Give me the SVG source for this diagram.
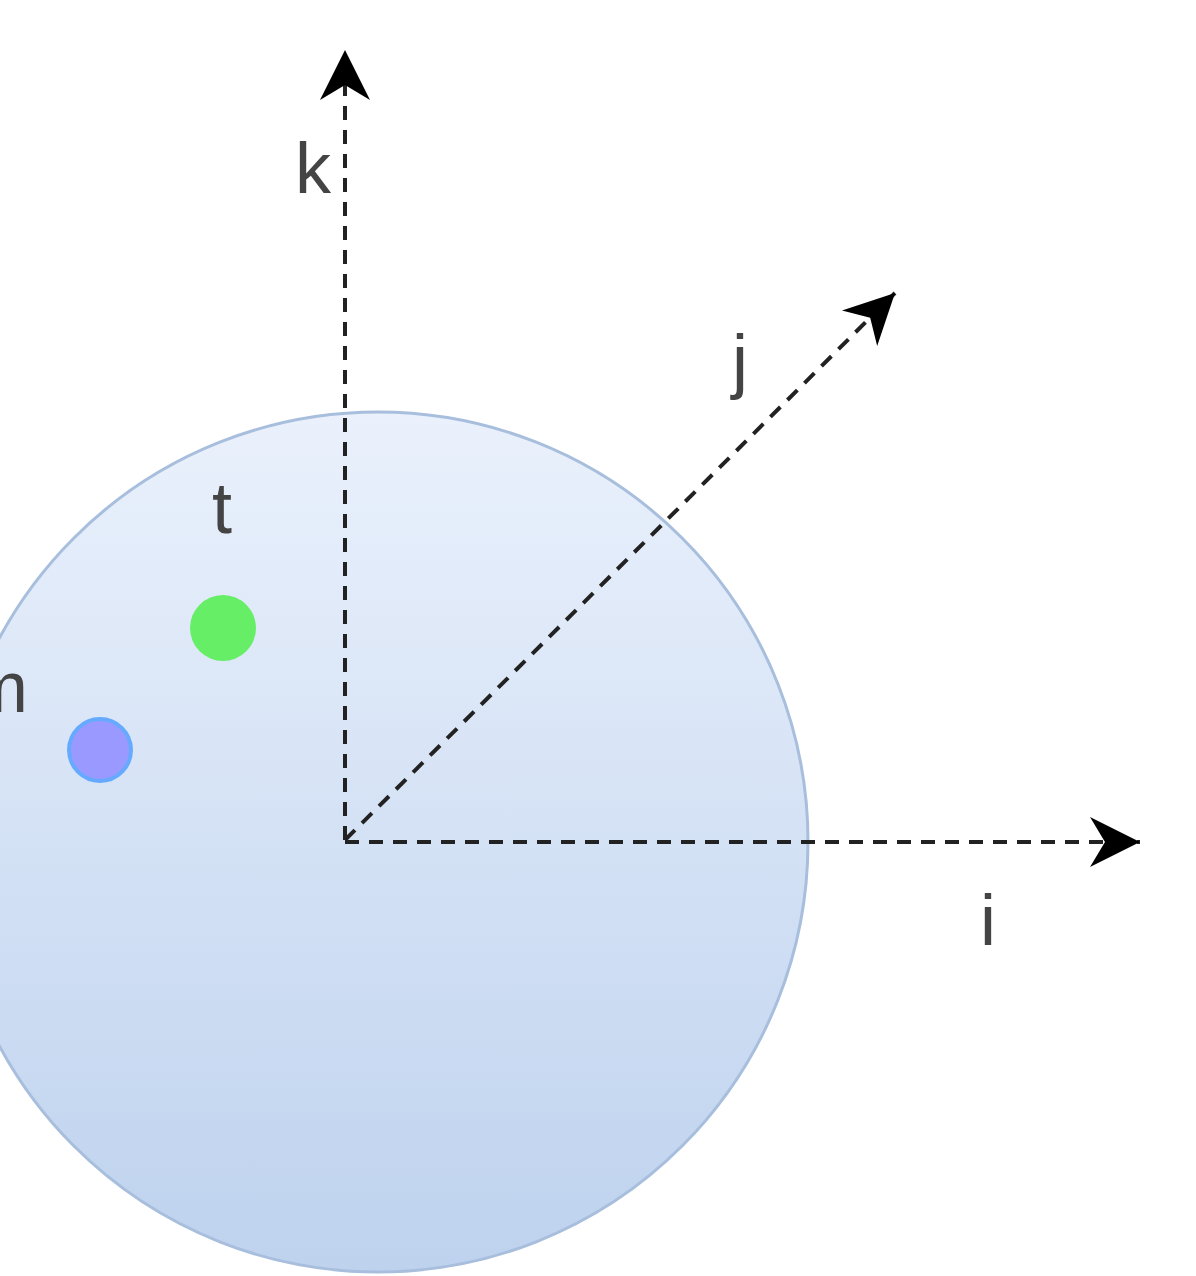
<svg xmlns="http://www.w3.org/2000/svg" width="1196" height="1276" viewBox="0 0 1196 1276">
<defs>
<linearGradient id="g" x1="0" y1="0" x2="0" y2="1"><stop offset="0" stop-color="#eaf1fc"/><stop offset="1" stop-color="#bed2ee"/></linearGradient>
<marker id="a" viewBox="0 0 10 10" refX="10" refY="5" markerWidth="50" markerHeight="50" markerUnits="userSpaceOnUse" orient="auto"><path d="M0,0 L10,5 L0,10 L3,5 Z" fill="#000"/></marker>
<style>.ax{stroke:#222;stroke-width:4;stroke-dasharray:14 10;fill:none}.t{font-family:"Liberation Sans",Arial,sans-serif;font-size:72px;fill:#444}</style>
</defs>
<g id="sphere"><circle cx="378" cy="842" r="430" fill="url(#g)" stroke="#a8bedd" stroke-width="3"/></g>
<g id="connectors">
<line class="ax" x1="345" y1="840" x2="345" y2="50" marker-end="url(#a)"/>
<line class="ax" x1="345" y1="842" x2="1140" y2="842" marker-end="url(#a)"/>
<line class="ax" x1="345" y1="840" x2="895" y2="293" marker-end="url(#a)"/>
</g>
<g id="dot-t"><circle cx="223" cy="628" r="33" fill="#66ee66"/></g>
<g id="dot-m"><circle cx="100" cy="750" r="31" fill="#9999ff" stroke="#66aaff" stroke-width="4"/></g>
<g id="labels">
<text class="t" x="313" y="193" text-anchor="middle">k</text>
<text class="t" x="740" y="385" text-anchor="middle">j</text>
<text class="t" x="222" y="533" text-anchor="middle">t</text>
<text class="t" x="988" y="945" text-anchor="middle">i</text>
<text class="t" x="28" y="712" text-anchor="end">m</text>
</g>
</svg>
